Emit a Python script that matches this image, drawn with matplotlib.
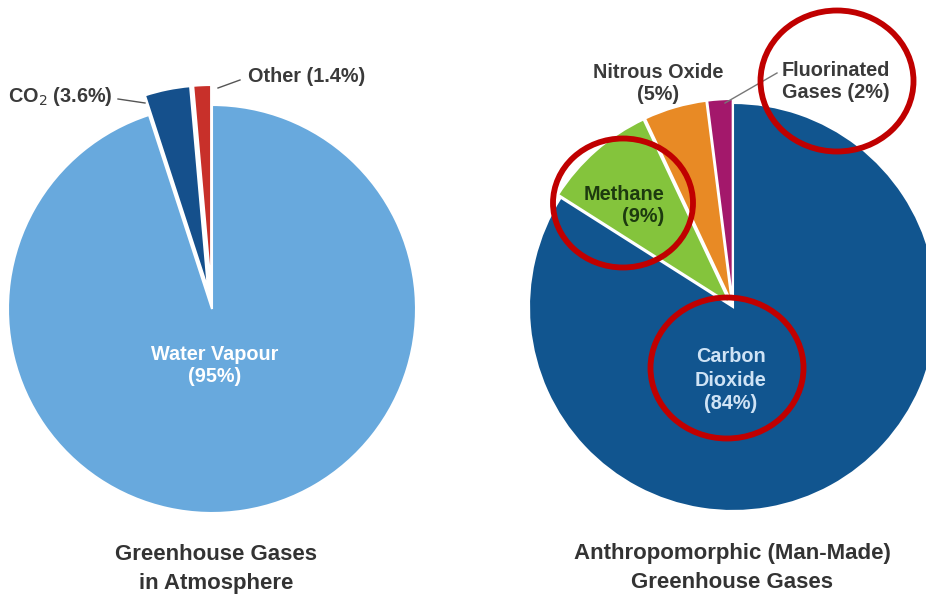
import matplotlib
matplotlib.use("Agg")
import matplotlib.pyplot as plt
from matplotlib.patches import Ellipse

# --- data -------------------------------------------------------------
atm_labels = ["Other", "CO2", "Water Vapour"]
atm_values = [1.4, 3.6, 95.0]
atm_colors = ["#c8302a", "#15508c", "#68a9dd"]

anthro_labels = ["Fluorinated Gases", "Nitrous Oxide", "Methane", "Carbon Dioxide"]
anthro_values = [2, 5, 9, 84]
anthro_colors = ["#a3186b", "#e88a25", "#84c43c", "#11558f"]

titles = [["Greenhouse Gases", "in Atmosphere"],
          ["Anthropomorphic (Man-Made)", "Greenhouse Gases"]]

# --- figure: one axes in pixel units (y measured from the bottom) ------
W, H = 926, 596
fig = plt.figure(figsize=(W / 100, H / 100), dpi=100)
ax = fig.add_axes([0, 0, 1, 1])
FONT = "Liberation Sans"


def py(y):
    """convert a top-down pixel row into the axes' y coordinate"""
    return H - y


R = 204
left_c = (212, py(309))
right_c = (733, py(307))

# explode offsets are in data (pixel) units
ax.pie(atm_values, colors=atm_colors, startangle=90, counterclock=True,
       center=left_c, radius=R, explode=[20, 20, 0],
       wedgeprops=dict(edgecolor="white", linewidth=1.5))
ax.pie(anthro_values, colors=anthro_colors, startangle=90, counterclock=True,
       center=right_c, radius=R, explode=[4, 4, 4, 0],
       wedgeprops=dict(edgecolor="white", linewidth=1.5))

ax.set_xlim(0, W)
ax.set_ylim(0, H)
ax.set_aspect("equal")
ax.axis("off")

dark = "#3a3a3a"
lbl = dict(fontfamily=FONT, fontweight="bold", fontsize=14.3, linespacing=1.2)

# left pie labels
ax.text(215, py(366), f"Water Vapour\n({atm_values[2]:g}%)", color="white",
        ha="center", va="center", **lbl)
ax.text(113, py(97), f"CO$_2$ ({atm_values[1]:g}%)", color=dark,
        ha="right", va="center", **lbl)
ax.plot([118, 145], [py(99), py(103)], color="#555555", lw=1)
ax.text(248, py(77), f"Other ({atm_values[0]:g}%)", color=dark,
        ha="left", va="center", **lbl)
ax.plot([218, 240], [py(88), py(80)], color="#555555", lw=1)

# right pie labels
ax.text(658, py(83), f"Nitrous Oxide\n({anthro_values[1]}%)", color=dark,
        ha="center", va="center", **lbl)
ax.text(782, py(82), f"Fluorinated\nGases ({anthro_values[0]}%)", color=dark,
        ha="left", va="center", multialignment="left", **lbl)
ax.plot([725, 777], [py(103), py(73)], color="#777777", lw=1)
ax.text(664, py(205), f"Methane\n({anthro_values[2]}%)", color="#1d3a0f",
        ha="right", va="center", multialignment="right", **lbl)
ax.text(731, py(380), f"Carbon\nDioxide\n({anthro_values[3]}%)", color="#cfe3f5",
        ha="center", va="center", **{**lbl, "linespacing": 1.3})

# chart titles, one line at a time
ttl = dict(fontfamily=FONT, fontweight="bold", fontsize=16, color="#333333",
           ha="center", va="center")
for x0, lines in zip([216, 732], titles):
    for i, line in enumerate(lines):
        ax.text(x0, py(554 + 29 * i), line, **ttl)

# red highlight rings
rings = [((837, 81), 153, 141), ((623, 203), 140, 129), ((727, 368), 153, 141)]
for (cx, cy), w, h in rings:
    ax.add_patch(Ellipse((cx, py(cy)), w, h, fill=False,
                         edgecolor="#c00000", linewidth=4.2, zorder=5))

fig.savefig("out.png", dpi=100, facecolor="white")
